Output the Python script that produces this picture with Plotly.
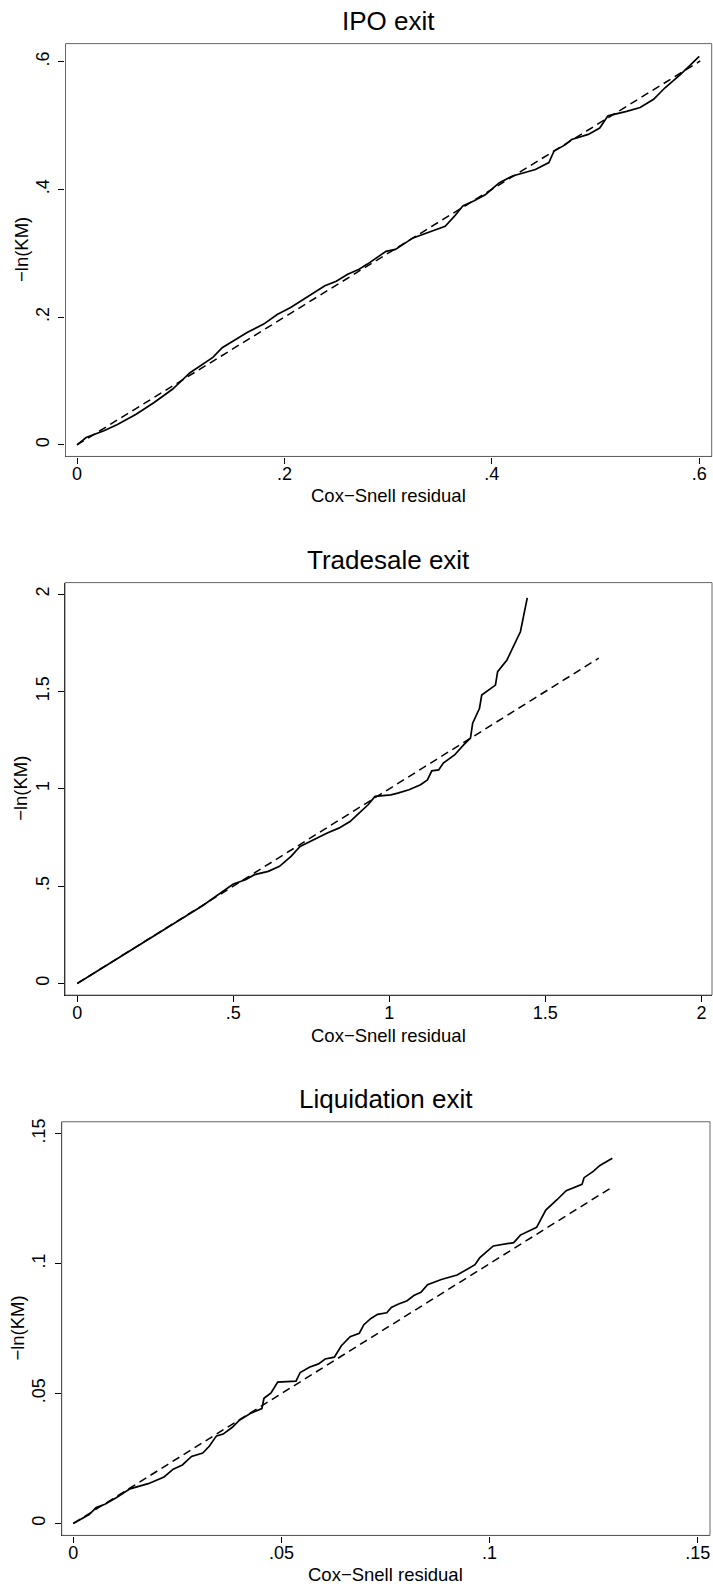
import plotly.graph_objects as go

# ---------------- data ----------------
ipo_x = [0, 0.0088, 0.026, 0.039, 0.057, 0.074, 0.092, 0.109, 0.131, 0.140, 0.153, 0.164, 0.180,
         0.193, 0.206, 0.223, 0.239, 0.250, 0.261, 0.272, 0.280, 0.298, 0.307, 0.324, 0.342, 0.355,
         0.364, 0.372, 0.383, 0.394, 0.407, 0.420, 0.442, 0.455, 0.460, 0.471, 0.477, 0.493, 0.504,
         0.512, 0.530, 0.543, 0.556, 0.567, 0.582, 0.600]
ipo_y = [0, 0.0115, 0.022, 0.032, 0.048, 0.066, 0.087, 0.113, 0.137, 0.152, 0.165, 0.176, 0.189,
         0.204, 0.215, 0.233, 0.249, 0.256, 0.267, 0.275, 0.283, 0.303, 0.306, 0.324, 0.335, 0.342,
         0.358, 0.374, 0.382, 0.392, 0.410, 0.421, 0.431, 0.442, 0.460, 0.470, 0.478, 0.486, 0.496,
         0.515, 0.522, 0.528, 0.541, 0.559, 0.580, 0.608]
ipo_ref = [0, 0.601]

trade_x = [0, 0.160, 0.300, 0.400, 0.500, 0.539, 0.568, 0.612, 0.648, 0.685, 0.714, 0.757, 0.801,
           0.838, 0.874, 0.903, 0.932, 0.954, 1.005, 1.027, 1.063, 1.100, 1.122, 1.136, 1.158,
           1.173, 1.209, 1.238, 1.260, 1.267, 1.289, 1.296, 1.340, 1.347, 1.377, 1.420, 1.442]
trade_y = [0, 0.158, 0.296, 0.398, 0.511, 0.533, 0.559, 0.576, 0.602, 0.653, 0.704, 0.738, 0.773,
           0.798, 0.832, 0.875, 0.918, 0.961, 0.969, 0.978, 0.995, 1.021, 1.046, 1.092, 1.097,
           1.132, 1.174, 1.226, 1.260, 1.337, 1.414, 1.482, 1.533, 1.602, 1.662, 1.807, 1.981]
trade_ref = [0, 1.671]

liq_x = [0, 0.0022, 0.0038, 0.0055, 0.0076, 0.0104, 0.0136, 0.0180, 0.0218, 0.0240, 0.0262,
         0.0284, 0.0311, 0.0327, 0.0344, 0.0360, 0.0382, 0.0398, 0.0425, 0.0453, 0.0458, 0.0475,
         0.0491, 0.0535, 0.0545, 0.0567, 0.0589, 0.0605, 0.0627, 0.0644, 0.0665, 0.0687, 0.0698,
         0.0715, 0.0731, 0.0753, 0.0764, 0.0780, 0.0802, 0.0818, 0.0835, 0.0851, 0.0884, 0.0922,
         0.0965, 0.0976, 0.1009, 0.1058, 0.1074, 0.1113, 0.1135, 0.1162, 0.1184, 0.1222, 0.1227,
         0.1249, 0.1265, 0.1295]
liq_y = [0, 0.0021, 0.0034, 0.0061, 0.0074, 0.0100, 0.0133, 0.0153, 0.0179, 0.0209, 0.0225,
         0.0258, 0.0271, 0.0298, 0.0337, 0.0344, 0.0370, 0.0396, 0.0423, 0.0442, 0.0482, 0.0502,
         0.0544, 0.0548, 0.0581, 0.0601, 0.0614, 0.0633, 0.0640, 0.0684, 0.0719, 0.0732, 0.0765,
         0.0789, 0.0805, 0.0811, 0.0831, 0.0844, 0.0857, 0.0877, 0.0890, 0.0919, 0.0939, 0.0956,
         0.0996, 0.1022, 0.1068, 0.1081, 0.1110, 0.1140, 0.1206, 0.1246, 0.1281, 0.1305, 0.1331,
         0.1355, 0.1378, 0.1406]
liq_ref = [0, 0.1295]

titles = ["IPO exit", "Tradesale exit", "Liquidation exit"]
x_title = "Cox\u2212Snell residual"
y_title = "\u2212ln(KM)"

ipo_ticks = [0, 0.2, 0.4, 0.6]
ipo_ticktext = ["0", ".2", ".4", ".6"]
trade_ticks = [0, 0.5, 1, 1.5, 2]
trade_ticktext = ["0", ".5", "1", "1.5", "2"]
liq_ticks = [0, 0.05, 0.1, 0.15]
liq_ticktext = ["0", ".05", ".1", ".15"]

# ---------------- layout geometry (pixels) ----------------
W, H = 713, 1587
FONT = "Liberation Sans, Arial, Helvetica, sans-serif"

panels = [
    dict(x=ipo_x, y=ipo_y, ref=ipo_ref, ticks=ipo_ticks, text=ipo_ticktext,
         px=(65.5, 711.7), py=(40.7, 454.3), xr=[-0.0111, 0.612], yr=[-0.0181, 0.6281],
         title_y=18, xt_y=493, yt_x=21),
    dict(x=trade_x, y=trade_y, ref=trade_ref, ticks=trade_ticks, text=trade_ticktext,
         px=(65, 712), py=(580.7, 994), xr=[-0.0394, 2.034], yr=[-0.06, 2.0595],
         title_y=558, xt_y=1034, yt_x=21),
    dict(x=liq_x, y=liq_y, ref=liq_ref, ticks=liq_ticks, text=liq_ticktext,
         px=(61.7, 710), py=(1120.9, 1535.3), xr=[-0.00279, 0.15295], yr=[-0.00461, 0.15461],
         title_y=1098, xt_y=1574, yt_x=18),
]

fig = go.Figure()
annotations = []
shapes = []
for i, p in enumerate(panels):
    n = "" if i == 0 else str(i + 1)
    xa, ya = "x" + n, "y" + n
    fig.add_trace(go.Scatter(x=p["ref"], y=p["ref"], mode="lines", xaxis=xa, yaxis=ya,
                             line=dict(color="black", width=1.5, dash="8px,5px"),
                             showlegend=False, hoverinfo="skip"))
    fig.add_trace(go.Scatter(x=p["x"], y=p["y"], mode="lines", xaxis=xa, yaxis=ya,
                             line=dict(color="black", width=1.7),
                             showlegend=False))
    axis_common = dict(showgrid=False, zeroline=False, showline=True, linecolor="black",
                       linewidth=1.3, ticks="outside", ticklen=6, tickwidth=1.2,
                       tickcolor="black", tickmode="array", tickvals=p["ticks"],
                       ticktext=p["text"], tickfont=dict(family=FONT, size=18, color="black"))
    fig.update_layout(**{
        "xaxis" + n: dict(domain=[p["px"][0] / W, p["px"][1] / W], range=p["xr"],
                          anchor=ya, ticklabelstandoff=-5, **axis_common),
        "yaxis" + n: dict(domain=[1 - p["py"][1] / H, 1 - p["py"][0] / H], range=p["yr"],
                          anchor=xa, tickangle=-90, ticklabelstandoff=2, **axis_common),
    })
    # light frame on top/right
    shapes.append(dict(type="rect", xref=xa + " domain", yref=ya + " domain",
                       x0=0, x1=1, y0=0, y1=1, line=dict(color="#666666", width=1),
                       layer="above"))
    cx = (p["px"][0] + p["px"][1]) / 2
    cy = (p["py"][0] + p["py"][1]) / 2
    annotations.append(dict(text=titles[i], x=cx / W, y=1 - p["title_y"] / H,
                            xref="paper", yref="paper", showarrow=False,
                            xanchor="center", yanchor="middle",
                            font=dict(family=FONT, size=26, color="black")))
    annotations.append(dict(text=x_title, x=cx / W, y=1 - p["xt_y"] / H,
                            xref="paper", yref="paper", showarrow=False,
                            xanchor="center", yanchor="middle",
                            font=dict(family=FONT, size=18.5, color="black")))
    annotations.append(dict(text=y_title, x=p["yt_x"] / W, y=1 - cy / H,
                            xref="paper", yref="paper", showarrow=False, textangle=-90,
                            xanchor="center", yanchor="middle",
                            font=dict(family=FONT, size=18.5, color="black")))

fig.update_layout(width=W, height=H, margin=dict(l=0, r=0, t=0, b=0),
                  paper_bgcolor="white", plot_bgcolor="white",
                  annotations=annotations, shapes=shapes, showlegend=False)

fig.write_html("out.html",
               config={"displayModeBar": False},
               post_script="document.body.style.margin='0px';"
                           "document.body.style.overflow='hidden';")
